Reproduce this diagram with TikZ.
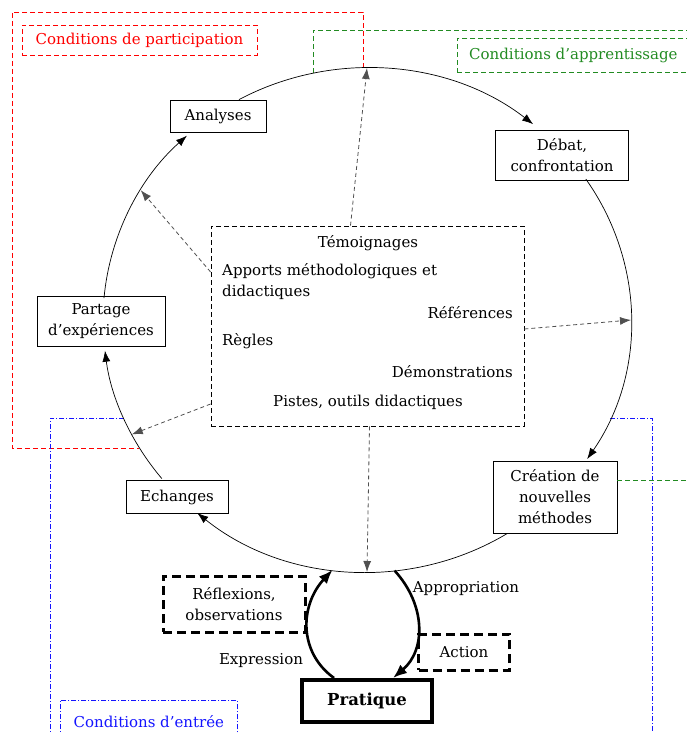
\documentclass[tikz,border=0pt]{standalone}
\usepackage{fontspec}
\setmainfont{DejaVu Serif}
\usepackage{tikz}
\usetikzlibrary{arrows.meta, positioning, calc}
\definecolor{rouge}{RGB}{255,0,0}
\definecolor{vert}{RGB}{34,139,34}
\definecolor{bleu}{RGB}{20,20,255}
\definecolor{gris}{RGB}{80,80,80}

\begin{document}
\begin{tikzpicture}[
    x=1pt, y=-1pt,
    font=\fontsize{15}{21}\selectfont,
    etape/.style={rectangle, draw, line width=0.9pt, align=center, inner sep=2pt},
    cadre/.style={rectangle, draw, line width=0.8pt, dash pattern=on 5pt off 3pt},
    epais/.style={rectangle, draw, line width=3pt, dash pattern=on 9pt off 5pt, align=center},
    boucle/.style={line width=0.7pt, -{Latex[length=11pt,width=8pt]}},
    apport/.style={gris, line width=0.8pt, dash pattern=on 4pt off 3pt, -{Latex[length=11pt,width=8pt]}},
    forte/.style={line width=2.6pt, -{Latex[length=14pt,width=11pt]}},
    zone/.style={line width=0.8pt, dash pattern=on 5pt off 3pt},
    zonebleue/.style={bleu, line width=0.8pt, dash pattern=on 5pt off 2pt on 1pt off 2pt}
]
\useasboundingbox (0,0) rectangle (686,733);

% points on the cycle
\foreach \nom/\t in {pa/185, an/227, ab/241, de/309, db/326, cr/393.5, cb/58, ec/130, eb/141, pb/173,
                     top/270, ul/211, right/360, ll/153, bot/90, exp/97.5, app/84}
    \coordinate (c\nom) at ({367+264*cos(\t)},{320+252*sin(\t)});

% conditions
\draw[zone, rouge] (363,68) -- (363,12) -- (12,12) -- (12,448) -- (139,448);
\draw[zone, vert] (313,73) -- (313,30) -- (690,30);
\draw[zonebleue] (124,418) -- (50,418) -- (50,740);
\draw[zonebleue] (610,418) -- (652,418) -- (652,740);

\node[cadre, rouge, minimum width=235pt, minimum height=30pt] (participation) at (139.5,40) {Conditions de participation};
\node[cadre, vert, minimum width=232pt, minimum height=34pt, anchor=north west] (apprentissage) at (457,38) {Conditions d'apprentissage};
\node[rectangle, draw, zonebleue, minimum width=177pt, minimum height=42pt, anchor=north west] (entree) at (60,700) {Conditions d'entrée};

% steps of the cycle
\node[etape, minimum width=96pt, minimum height=32pt] (analyses) at (218,116) {Analyses};
\node[etape, minimum width=133pt, minimum height=50pt] (debat) at (562,155) {Débat,\\confrontation};
\node[etape, minimum width=124pt, minimum height=72pt] (creation) at (555,497) {Création de\\nouvelles\\méthodes};
\node[etape, minimum width=102pt, minimum height=33pt] (echanges) at (177,497) {Echanges};
\node[etape, minimum width=128pt, minimum height=50pt] (partage) at (101,321) {Partage\\d'expériences};

\draw[zone, vert] ($(creation.east)+(0,-17)$) -- (690,480);

\draw[boucle] (cpa) arc[start angle=185, end angle=227, x radius=264, y radius=252];
\draw[boucle] (cab) arc[start angle=241, end angle=309, x radius=264, y radius=252];
\draw[boucle] (cdb) arc[start angle=326, end angle=393.5, x radius=264, y radius=252];
\draw[boucle] (ccb) arc[start angle=58, end angle=130, x radius=264, y radius=252];
\draw[boucle] (ceb) arc[start angle=141, end angle=173, x radius=264, y radius=252];

% contributions
\node[cadre, minimum width=313pt, minimum height=200pt] (apports) at (367.5,326) {};
\node (temoignages) at (368,243) {Témoignages};
\node[anchor=west, align=left, inner sep=0pt] (methodo) at (222,282) {Apports méthodologiques et\\didactiques};
\node[anchor=east, inner sep=0pt] (references) at (513,313) {Références};
\node[anchor=west, inner sep=0pt] (regles) at (222,341) {Règles};
\node[anchor=east, inner sep=0pt] (demos) at (513,372) {Démonstrations};
\node (pistes) at (368,402) {Pistes, outils didactiques};

\draw[apport] ($(apports.north)+(-17,0)$) -- (ctop);
\draw[apport] ($(apports.west)+(0,-54)$) -- (cul);
\draw[apport] ($(apports.east)+(0,3)$) -- (cright);
\draw[apport] ($(apports.west)+(0,78)$) -- (cll);
\draw[apport] ($(apports.south)+(2,0)$) -- (cbot);

% practice
\node[rectangle, draw, line width=4pt, minimum width=130pt, minimum height=42pt,
      font=\fontsize{16.5}{20}\selectfont\bfseries] (pratique) at (367,701) {Pratique};
\node[epais, minimum width=142pt, minimum height=56pt] (reflexions) at (234,604) {Réflexions,\\observations};
\node[epais, minimum width=91pt, minimum height=36pt] (action) at (464,652) {Action};

\draw[forte] ($(pratique.north)+(-33,0)$) .. controls (298,652) and (300,605) .. (cexp);
\draw[forte] (capp) .. controls (426,605) and (426,650) .. ($(pratique.north)+(26,0)$);
\node (expression) at (261,661) {Expression};
\node (appropriation) at (466,589) {Appropriation};

\end{tikzpicture}
\end{document}
